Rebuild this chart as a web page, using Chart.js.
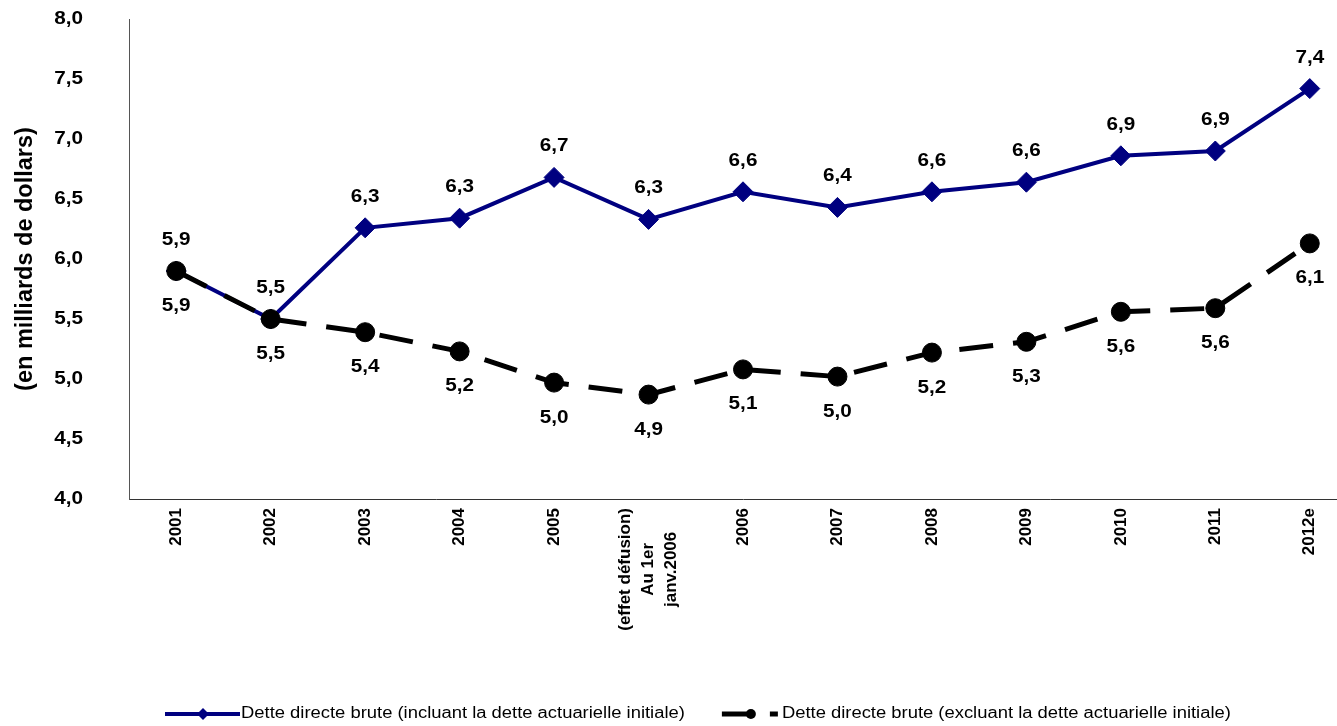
<!DOCTYPE html>
<html>
<head>
<meta charset="utf-8">
<script src="https://cdn.jsdelivr.net/npm/chart.js@4.4.1/dist/chart.umd.min.js"></script>
<style>
  html, body { margin: 0; padding: 0; background: #fff; overflow: hidden; }
  #wrap { position: relative; width: 1368px; height: 726px; }
</style>
</head>
<body>
<div id="wrap"><canvas id="c"></canvas></div>
<script>
// Years on the horizontal axis (one entry spans three lines)
const categories = ['2001', '2002', '2003', '2004', '2005',
  ['(effet défusion)', 'Au 1er', 'janv.2006'],
  '2006', '2007', '2008', '2009', '2010', '2011', '2012e'];

// Dette directe brute, en milliards de dollars
const detteIncluant = [5.9, 5.5, 6.26, 6.34, 6.68, 6.33, 6.56, 6.43, 6.56, 6.64, 6.86, 6.9, 7.42];
const detteExcluant = [5.9, 5.5, 5.39, 5.23, 4.97, 4.87, 5.08, 5.02, 5.22, 5.31, 5.56, 5.59, 6.13];

// Vertical axis range and step
const yMin = 4.0;
const yMax = 8.0;
const yStep = 0.5;

const yTitle = '(en milliards de dollars)';
const seriesNames = [
  'Dette directe brute (incluant la dette actuarielle initiale)',
  'Dette directe brute (excluant la dette actuarielle initiale)'
];

const FONT = '"Liberation Sans", Arial, Helvetica, sans-serif';
const NAVY = '#000080';
const WIDE = 1.15;            // horizontal widening of the upright lettering
const fmt = v => v.toFixed(1).replace('.', ',');

// fill a string widened horizontally around its anchor
function wideText(ctx, str, x, y) {
  ctx.save();
  ctx.translate(x, y);
  ctx.scale(WIDE, 1);
  ctx.fillText(str, 0, 0);
  ctx.restore();
}

// Value labels above (navy series) or below (black series) each point
const valueLabels = {
  id: 'valueLabels',
  afterDatasetsDraw(chart) {
    const ctx = chart.ctx;
    ctx.save();
    ctx.font = 'bold 18px ' + FONT;
    ctx.fillStyle = '#000';
    ctx.textAlign = 'center';
    ctx.textBaseline = 'middle';
    chart.data.datasets.forEach((ds, di) => {
      const meta = chart.getDatasetMeta(di);
      meta.data.forEach((pt, i) => {
        wideText(ctx, fmt(ds.data[i]), pt.x, pt.y + ds.labelOffset);
      });
    });
    ctx.restore();
  }
};

// Axis lettering: value ticks, axis title, rotated category labels
const axisText = {
  id: 'axisText',
  afterDraw(chart) {
    const ctx = chart.ctx;
    const area = chart.chartArea;
    const xs = chart.scales.x;
    const ys = chart.scales.y;
    ctx.save();
    ctx.fillStyle = '#000';

    // value ticks, right-aligned
    ctx.font = 'bold 18px ' + FONT;
    ctx.textAlign = 'right';
    ctx.textBaseline = 'middle';
    ys.ticks.forEach(t => {
      wideText(ctx, fmt(t.value), area.left - 46, ys.getPixelForValue(t.value));
    });

    // axis title, reading upward, centred on the plot height
    ctx.font = 'bold 23.5px ' + FONT;
    ctx.textAlign = 'center';
    ctx.save();
    ctx.translate(26, (area.top + area.bottom) / 2);
    ctx.rotate(-Math.PI / 2);
    ctx.fillText(yTitle, 0, 0);
    ctx.restore();

    // category labels, lines centred on each other, block hung from the axis
    ctx.font = 'bold 17px ' + FONT;
    const top = area.bottom + 9;
    const lineGap = 23;
    chart.data.labels.forEach((lab, i) => {
      const lines = [].concat(lab);
      const maxW = Math.max(...lines.map(l => ctx.measureText(l).width));
      ctx.save();
      ctx.translate(xs.getPixelForValue(i), top + maxW / 2);
      ctx.rotate(-Math.PI / 2);
      lines.forEach((line, j) => {
        ctx.fillText(line, 0, (j - (lines.length - 1) / 2) * lineGap);
      });
      ctx.restore();
    });
    ctx.restore();
  }
};

// Legend row at the foot of the chart
const footLegend = {
  id: 'footLegend',
  afterDraw(chart) {
    const ctx = chart.ctx;
    const y = 714;
    ctx.save();
    ctx.font = '16px ' + FONT;
    ctx.fillStyle = '#000';
    ctx.textAlign = 'left';
    ctx.textBaseline = 'middle';

    // navy item: line with a diamond
    let x = 165;
    ctx.strokeStyle = NAVY;
    ctx.lineWidth = 4;
    ctx.beginPath(); ctx.moveTo(x, y); ctx.lineTo(x + 75, y); ctx.stroke();
    ctx.fillStyle = NAVY;
    ctx.beginPath();
    ctx.moveTo(x + 38 - 6, y); ctx.lineTo(x + 38, y - 6);
    ctx.lineTo(x + 38 + 6, y); ctx.lineTo(x + 38, y + 6);
    ctx.closePath(); ctx.fill();
    ctx.fillStyle = '#000';
    wideText(ctx, seriesNames[0], x + 76, y);
    x = x + 76 + ctx.measureText(seriesNames[0]).width * WIDE + 37;

    // black item: dashed line with a dot
    ctx.strokeStyle = '#000';
    ctx.lineWidth = 5;
    ctx.beginPath(); ctx.moveTo(x, y); ctx.lineTo(x + 28, y); ctx.stroke();
    ctx.beginPath(); ctx.arc(x + 29, y, 5, 0, Math.PI * 2); ctx.fill();
    ctx.beginPath(); ctx.moveTo(x + 48, y); ctx.lineTo(x + 56, y); ctx.stroke();
    wideText(ctx, seriesNames[1], x + 60, y);
    ctx.restore();
  }
};

new Chart(document.getElementById('c'), {
  type: 'line',
  data: {
    labels: categories,
    datasets: [
      {
        label: seriesNames[0],
        data: detteIncluant,
        borderColor: NAVY,
        backgroundColor: NAVY,
        borderWidth: 4,
        pointStyle: 'rectRot',
        pointRadius: 10,
        pointBorderWidth: 1,
        pointBackgroundColor: NAVY,
        pointBorderColor: NAVY,
        tension: 0,
        order: 1,
        labelOffset: -31
      },
      {
        label: seriesNames[1],
        data: detteExcluant,
        borderColor: '#000',
        backgroundColor: '#000',
        borderWidth: 5,
        borderDash: [34, 20],
        pointStyle: 'circle',
        pointRadius: 9.5,
        pointBorderWidth: 1,
        pointBackgroundColor: '#000',
        pointBorderColor: '#000',
        tension: 0,
        order: 0,
        labelOffset: 35
      }
    ]
  },
  options: {
    responsive: true,
    maintainAspectRatio: false,
    animation: false,
    devicePixelRatio: 1,
    layout: { padding: { top: 19, left: 0, right: 4, bottom: 0 } },
    plugins: {
      legend: { display: false },
      tooltip: { enabled: false }
    },
    scales: {
      x: {
        type: 'category',
        offset: true,
        grid: { display: false, drawTicks: false },
        border: { display: true, color: '#333', width: 1 },
        ticks: { display: false },
        afterFit(scale) { scale.height = 227; }
      },
      y: {
        min: yMin,
        max: yMax,
        grid: { display: false, drawTicks: false },
        border: { display: true, color: '#555', width: 1 },
        ticks: { display: false, stepSize: yStep },
        title: { display: false },
        afterFit(scale) { scale.width = 129; }
      }
    }
  },
  plugins: [valueLabels, axisText, footLegend]
});
</script>
</body>
</html>
